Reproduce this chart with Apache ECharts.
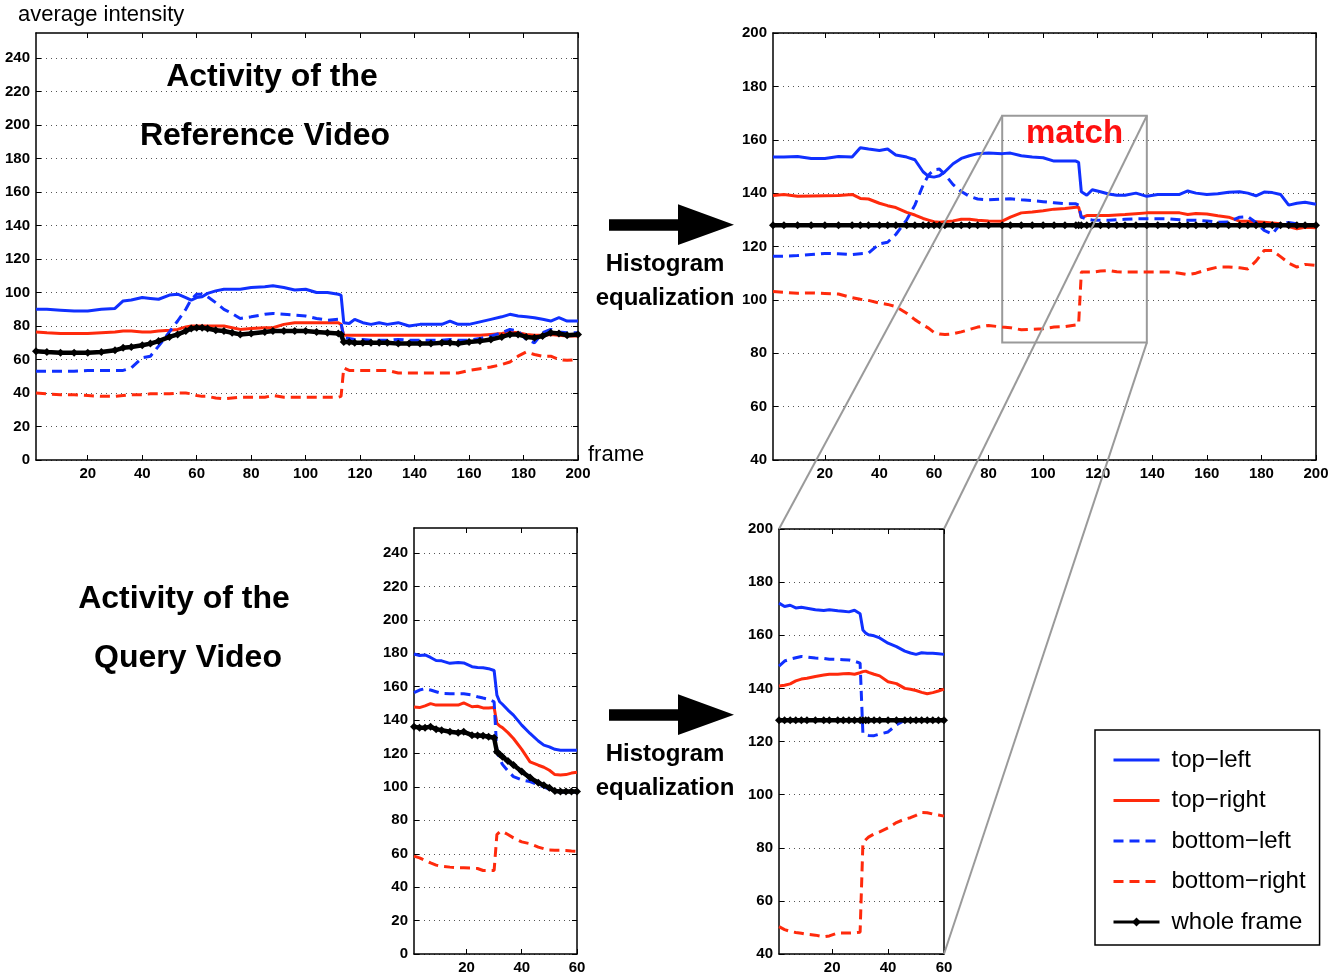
<!DOCTYPE html>
<html><head><meta charset="utf-8">
<script src="https://cdn.jsdelivr.net/npm/echarts@6/dist/echarts.min.js"></script>
<style>html,body{margin:0;padding:0;background:#fff}#c{width:1342px;height:975px}</style>
</head><body><div id="c"></div>
<script>
// ---------- data ----------
const seriesNames = ['top\u2212left', 'top\u2212right', 'bottom\u2212left', 'bottom\u2212right', 'whole frame'];

const refFrames = [1,5,10,15,20,25,30,33,36,40,43,46,50,53,56,58,60,62,64,67,70,73,76,80,85,88,92,96,100,104,108,112,113,114,116,118,121,124,127,130,134,138,142,146,150,153,156,160,164,168,172,175,178,181,184,187,190,193,196,200];

// Reference video, raw activity
const refTopLeft = [90,90,89.5,89,89,90,90.5,95,95.5,97,96.5,96,98.5,99,97,95.5,97,97.5,99.5,101,102,102,102,103,103.5,104,103,101.5,102,100,100,99,98.5,82,81.5,84,82,81,82,81,82,80,81,81,81,83,81,81,82.5,84,85.5,87,86,85.5,85,84,83,85,83,83];
const refTopRight = [76.5,76,75.5,75.5,75.5,76,76.5,77,77,76.5,76.5,77,77.5,78,79.5,80,80,80,80,80,80,79,78,78.5,79,79,81,82,82,82,82,82,81,74.5,74.5,74.5,74.5,74.5,74.5,74.5,74.5,74.5,74.5,74.5,74.5,74.5,74.5,74.5,74.5,75,75.5,76.5,76,75,74.5,74.5,75,74.5,74,74];
const refBottomLeft = [53,53,53,53,53.5,53.5,53.5,53.5,55,61,62,68,76.5,83,90,96,99,99,97.5,94,90,87.5,84.5,85.5,87,87.5,87,86.5,86,84.5,83.5,84,82,73,72.5,72,72,71.5,71.5,71.5,72,71.5,71.5,71.5,71.5,72,71.5,71.5,72.5,74,76,78,77,72,70,76,78,76.5,76,76];
const refBottomRight = [40,39.5,39,39,38.5,38,38,38.5,39,39,39.5,39.5,39.5,40,40,39.5,38.5,38,38,37,36.5,37,37.5,37.5,37.5,38.5,37.5,37.5,37.5,37.5,37.5,37.5,38,55,53.5,53.5,53.5,53.5,53.5,53.5,52,52,52,52,52,52,52,53.5,54.5,55.5,57,58.5,62,64.5,63,62,62,60,59.5,60];
const refWhole = [65,64.5,64,64,64,64.5,65.5,67,67.5,68.5,69.5,71,73.5,75,77,78.5,79,79,78.5,77.5,77,76,75,75.5,76.5,77,77,77,77,76.5,76,75.5,75,70.5,70.5,70,70,70,70,70,69.5,69.5,69.5,69.5,70,70,69.5,70.5,71,72,73.5,75,75,73.5,73,74,76,75.5,74.5,75];

// Reference video, after histogram equalization
const eqRefTopLeft = [153.5,153.5,153.75,153,153,153.75,153.5,157,156.5,156,156.5,154.3,153.5,152.5,148,146.3,146,146.5,148,151,153,154,154.8,155,154.8,155,154,153.5,153.25,152,152,152,151.5,140.5,139.2,141.25,140.5,139.7,139.2,139.2,140,138.8,139.5,139.5,139.5,140.8,140,139.5,139.8,140.3,140.5,140,139,140.4,140.2,139.5,135.5,136.2,136.6,135.8];
const eqRefTopRight = [139.1,139.5,138.8,138.9,139,139.1,139.5,138,137.8,136.2,135.3,134.6,132.8,131.8,130.5,129.9,129.3,129.1,129.3,129.6,130.2,130.2,129.8,129.6,129.5,131,132.6,132.9,133.4,134,134.2,134.7,134.8,130.8,131.6,131.6,131.6,131.6,131.8,132,132.3,132.6,132.6,132.6,132.6,132,132.4,132.2,131.5,131,129.5,129.5,129.3,129.1,128.8,128.5,127.5,126.6,127.2,127];
const eqRefBottomLeft = [116.3,116.4,116.6,117,117.4,117.3,117,117.3,117.5,121,121.6,124.5,130,135.5,143,146.8,148.8,149,147,143.2,140.6,138.8,137.8,137.5,137.8,137.9,137.5,137.2,136.8,136.4,136,136,135.5,131,130.2,129.9,129.8,129.8,130,130.2,130.4,130.4,130.4,130.4,130,129.8,129.8,129.6,129.1,129.2,131,131.2,129,126,124.7,128.5,129,128.5,128,128];
const eqRefBottomRight = [103.1,102.8,102.5,102.6,102.4,102.2,100.8,100.2,99.8,98.8,98.3,97.5,95,92.6,90.6,89.4,87.8,87.2,87,87.3,88,88.9,89.8,90.4,89.8,89.6,88.8,89,89.2,89.8,90,90.6,90.8,110.4,110.4,110.4,110.8,111,110.5,110.4,110.4,110.4,110.4,110.4,110,109.5,110,111.3,112.3,112.3,112,111.6,114.5,118.5,118.5,116.2,113.8,112.3,113.3,112.9];
const eqRefWhole = [128,128,128,128,128,128,128,128,128,128,128,128,128,128,128,128,128,128,128,128,128,128,128,128,128,128,128,128,128,128,128,128,128,128,128,128,128,128,128,128,128,128,128,128,128,128,128,128,128,128,128,128,128,128,128,128,128,128,128,128];

const queryFrames = [1,3,5,7,9,11,14,17,19,22,24,26,28,30,31,32,33,35,37,40,43,46,48,50,52,54,56,58,60];

// Query video, raw activity
const qTopLeft = [179.6,178.7,179,177.5,175.7,175.5,174,174.5,174.2,172,171.5,171.3,170.8,169.7,155,151,149.5,146,143,137,132,127.5,125,124,122.5,122,122,122,122];
const qTopRight = [147.9,147.5,148.5,149.9,149,149,149,149,150.3,148,148.3,147.3,147.3,147.6,138,136.5,135.5,132.5,129,122.5,115,113,111.8,110,107.4,107.2,107.4,108.3,108.8];
const qBottomLeft = [156.4,158,158.8,158,157,156,155.8,155.8,155.8,155,154,153.2,152.5,151,121,117,113.5,109.5,106.2,104.2,103.2,101.2,100,98.5,97.5,97,97,97,97];
const qBottomRight = [58.6,57.5,56,54.5,53.2,52.5,52,51.6,51.6,51.4,51.2,50,50,50,71.5,73,73.4,71.5,69.5,67.1,66,64,63,62.2,62.1,62.1,62,61.7,61.5];
const qWhole = [136,135.5,135.5,136,134.6,134,133,132.5,133,131,130.8,130.6,130,129.4,121,119.5,118,115.5,113.2,109.2,105.6,102.5,101,99.5,97.5,97.3,97.3,97.3,97.3];

// Query video, after histogram equalization
const eqQTopLeft = [172.1,170.8,171.3,170.3,170.5,170.2,169.6,169.3,169.6,169.2,169,168.8,169.4,168.1,162,160.8,160.2,159.8,159,157,155.7,154,153.3,152.8,153.4,153.2,153.2,153,152.8];
const eqQTopRight = [140.9,141.2,141.7,142.8,143.5,143.8,144.5,145,145.3,145.3,145.5,145.6,145.3,145.9,146.3,146.5,146,145.3,144.7,142.5,141.8,140,139.7,139.2,138.5,138,138.4,139,139.7];
const eqQBottomLeft = [148.4,150.3,151,151.5,152,151.8,151.4,151.3,151,150.9,150.8,150.7,150.2,149.5,123,122.6,122.3,122.2,122.8,123.6,126.3,128,128,128,128,128,128,128,128];
const eqQBottomRight = [50.3,49.2,48.5,48.1,47.8,47.4,47.1,46.5,46.8,47.9,47.9,47.9,48,48.2,81.6,83,84,85.2,86,87.5,89.5,90.8,91.3,92.2,93.3,93.2,92.7,92.3,91.9];
const eqQWhole = [128,128,128,128,128,128,128,128,128,128,128,128,128,128,128,128,128,128,128,128,128,128,128,128,128,128,128,128,128];

// tick labels
const refXTicks = [20,40,60,80,100,120,140,160,180,200];
const queryXTicks = [20,40,60];
const rawYTicks = [0,20,40,60,80,100,120,140,160,180,200,220,240];
const eqYTicks = [40,60,80,100,120,140,160,180,200];

// "match" region in the equalized reference plot (frames, intensity)
const matchBoxX = [85, 138];
const matchBoxY = [84, 169];

// ---------- chart ----------
const FONT = 'Liberation Sans, Arial, Helvetica, sans-serif';
const BLUE = '#1030ff', RED = '#ff2a0c';
const DASH = [10, 6];
const looks = [
  {color: BLUE, type: 'solid', width: 3},
  {color: RED, type: 'solid', width: 3},
  {color: BLUE, type: DASH, width: 3},
  {color: RED, type: DASH, width: 3},
  {color: '#000', type: 'solid', width: 4.5, marker: true}
];

const panels = [
  {grid: {left: 36, top: 33, width: 542, height: 427}, xr: [1, 200], yr: [0, 255], xt: refXTicks, yt: rawYTicks, frames: refFrames, data: [refTopLeft, refTopRight, refBottomLeft, refBottomRight, refWhole]},
  {grid: {left: 773, top: 33, width: 543, height: 427}, xr: [1, 200], yr: [40, 200], xt: refXTicks, yt: eqYTicks, frames: refFrames, data: [eqRefTopLeft, eqRefTopRight, eqRefBottomLeft, eqRefBottomRight, eqRefWhole]},
  {grid: {left: 414, top: 528, width: 163, height: 429}, xr: [1, 60], yr: [0, 255], xt: queryXTicks, yt: rawYTicks, frames: queryFrames, data: [qTopLeft, qTopRight, qBottomLeft, qBottomRight, qWhole]},
  {grid: {left: 779, top: 529, width: 165, height: 427}, xr: [1, 60], yr: [40, 200], xt: queryXTicks, yt: eqYTicks, frames: queryFrames, data: [eqQTopLeft, eqQTopRight, eqQBottomLeft, eqQBottomRight, eqQWhole]}
];

const axisLine = {show: true, onZero: false, lineStyle: {color: '#000', width: 1.5}};
const labelStyle = {color: '#000', fontFamily: FONT, fontWeight: 'bold', fontSize: 15};

const grid = [], xAxis = [], yAxis = [], series = [];
panels.forEach((p, g) => {
  grid.push(Object.assign({containLabel: false}, p.grid));
  ['bottom', 'top'].forEach((pos, j) => {
    xAxis.push({
      type: 'value', gridIndex: g, position: pos, min: p.xr[0], max: p.xr[1],
      axisLine: axisLine,
      axisTick: {show: true, inside: true, length: 5, customValues: p.xt, lineStyle: {color: '#000', width: 1}},
      axisLabel: j === 0 ? Object.assign({show: true, margin: 6, customValues: p.xt}, labelStyle) : {show: false},
      splitLine: {show: false}
    });
  });
  ['left', 'right'].forEach((pos, j) => {
    yAxis.push({
      type: 'value', gridIndex: g, position: pos, min: p.yr[0], max: p.yr[1], interval: 20,
      axisLine: axisLine,
      axisTick: {show: true, inside: true, length: 5, customValues: p.yt, lineStyle: {color: '#000', width: 1}},
      axisLabel: j === 0 ? Object.assign({show: true, margin: 6, customValues: p.yt}, labelStyle) : {show: false},
      splitLine: j === 0 ? {show: true, lineStyle: {color: '#555', width: 1, type: [1, 4]}} : {show: false}
    });
  });
  p.data.forEach((vals, k) => {
    const lk = looks[k];
    const s = {
      type: 'line', name: seriesNames[k], xAxisIndex: 2 * g, yAxisIndex: 2 * g,
      data: p.frames.map((f, i) => [f, vals[i]]),
      lineStyle: {color: lk.color, width: lk.width, type: lk.type},
      itemStyle: {color: lk.color},
      symbol: lk.marker ? 'diamond' : 'none',
      symbolSize: 8,
      showSymbol: !!lk.marker,
      z: 3 + k,
      silent: true,
      animation: false
    };
    if (g === 1 && k === 0) {
      s.markArea = {
        silent: true,
        itemStyle: {color: 'rgba(0,0,0,0)', borderColor: '#9a9a9a', borderWidth: 2},
        label: {show: true, position: 'insideTop', distance: 3, formatter: 'match', color: '#ff1010', fontFamily: FONT, fontWeight: 'bold', fontSize: 33},
        data: [[{coord: [matchBoxX[0], matchBoxY[1]]}, {coord: [matchBoxX[1], matchBoxY[0]]}]]
      };
    }
    series.push(s);
  });
});

const chart = echarts.init(document.getElementById('c'), null, {renderer: 'canvas'});
chart.setOption({
  animation: false,
  backgroundColor: '#fff',
  grid, xAxis, yAxis, series,
  legend: {
    orient: 'vertical', left: 1095, top: 730,
    backgroundColor: '#fff', borderColor: '#000', borderWidth: 1.5, borderRadius: 0,
    padding: [18, 14, 11, 17],
    itemWidth: 46, itemHeight: 11, itemGap: 16.5,
    selectedMode: false,
    lineStyle: {width: 3},
    textStyle: {color: '#000', fontFamily: FONT, fontSize: 24, lineHeight: 24, padding: [0, 0, 0, 7]},
    data: seriesNames.map((n, k) => k < 4 ? {name: n, itemStyle: {opacity: 0}} : {name: n})
  }
});

// ---------- annotations ----------
function txt(x, y, s, size, bold, color) {
  return {type: 'text', x: x, y: y, z: 50, silent: true,
    style: {text: s, fill: color || '#000', font: (bold ? 'bold ' : '') + size + 'px ' + FONT, textAlign: 'center', textVerticalAlign: 'middle'}};
}
function arrow(dy) {
  return {type: 'polygon', z: 50, silent: true,
    shape: {points: [[609, 219.3 + dy], [678, 219.3 + dy], [678, 204.3 + dy], [734, 224.7 + dy], [678, 245 + dy], [678, 230.7 + dy], [609, 230.7 + dy]]},
    style: {fill: '#000'}};
}
const boxTL = chart.convertToPixel({xAxisIndex: 2, yAxisIndex: 2}, [matchBoxX[0], matchBoxY[1]]);
const boxTR = chart.convertToPixel({xAxisIndex: 2, yAxisIndex: 2}, [matchBoxX[1], matchBoxY[1]]);
const boxBR = chart.convertToPixel({xAxisIndex: 2, yAxisIndex: 2}, [matchBoxX[1], matchBoxY[0]]);
const qTL = chart.convertToPixel({xAxisIndex: 6, yAxisIndex: 6}, [1, 200]);
const qTR = chart.convertToPixel({xAxisIndex: 6, yAxisIndex: 6}, [60, 200]);
const qBR = chart.convertToPixel({xAxisIndex: 6, yAxisIndex: 6}, [60, 40]);
function seg(a, b) {
  return {type: 'line', z: 40, silent: true, shape: {x1: a[0], y1: a[1], x2: b[0], y2: b[1]}, style: {stroke: '#9a9a9a', lineWidth: 2}};
}

chart.setOption({
  graphic: [
    {type: 'text', x: 18, y: 15, z: 50, silent: true, style: {text: 'average intensity', fill: '#000', font: '22px ' + FONT, textAlign: 'left', textVerticalAlign: 'middle'}},
    {type: 'text', x: 588, y: 455, z: 50, silent: true, style: {text: 'frame', fill: '#000', font: '22px ' + FONT, textAlign: 'left', textVerticalAlign: 'middle'}},
    txt(272, 77, 'Activity of the', 32, true),
    txt(265, 136, 'Reference Video', 32, true),
    txt(184, 599, 'Activity of the', 32, true),
    txt(188, 658, 'Query Video', 32, true),
    txt(665, 264, 'Histogram', 24, true),
    txt(665, 298, 'equalization', 24, true),
    txt(665, 754, 'Histogram', 24, true),
    txt(665, 788, 'equalization', 24, true),
    arrow(0), arrow(490),
    seg(boxTL, qTL), seg(boxTR, qTR), seg(boxBR, qBR)
  ]
});
</script></body></html>
